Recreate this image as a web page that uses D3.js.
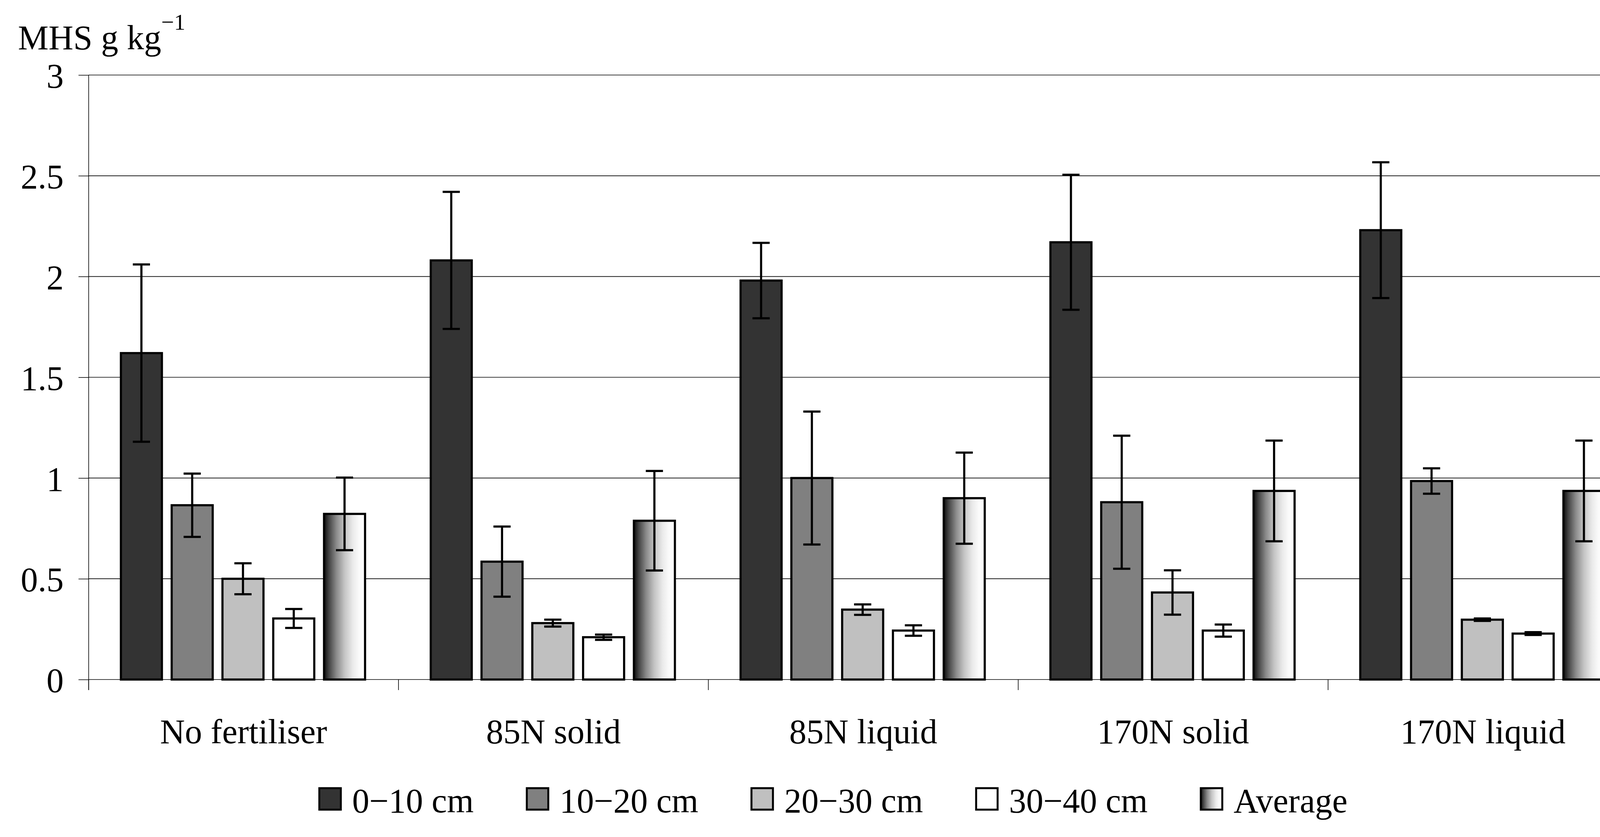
<!DOCTYPE html>
<html>
<head>
<meta charset="utf-8">
<script src="https://cdn.jsdelivr.net/npm/d3@7"></script>
<style>
  html, body { margin: 0; padding: 0; background: #fff; }
  svg { display: block; }
  text { font-family: "Liberation Serif", "Times New Roman", serif; fill: #000; }
</style>
</head>
<body>
<svg id="chart" width="4259" height="2142"></svg>
<script>
// ---- Data ----
const categories = ["No fertiliser", "85N solid", "85N liquid", "170N solid", "170N liquid"];
const seriesNames = ["0\u221210 cm", "10\u221220 cm", "20\u221230 cm", "30\u221240 cm", "Average"];
const depth0_10   = [1.62, 2.08, 1.98, 2.17, 2.23];
const depth10_20  = [0.865, 0.585, 1.00, 0.88, 0.985];
const depth20_30  = [0.50, 0.28, 0.347, 0.432, 0.297];
const depth30_40  = [0.303, 0.21, 0.243, 0.243, 0.228];
const average     = [0.822, 0.788, 0.90, 0.936, 0.936];
const err0_10     = [0.44, 0.34, 0.187, 0.335, 0.337];
const err10_20    = [0.157, 0.174, 0.33, 0.33, 0.063];
const err20_30    = [0.077, 0.017, 0.026, 0.11, 0.006];
const err30_40    = [0.047, 0.013, 0.026, 0.03, 0.007];
const errAverage  = [0.18, 0.247, 0.226, 0.25, 0.25];
const yTicks = [0, 0.5, 1, 1.5, 2, 2.5, 3];
const yTickLabels = ["0", "0.5", "1", "1.5", "2", "2.5", "3"];

const seriesValues = [depth0_10, depth10_20, depth20_30, depth30_40, average];
const seriesErrors = [err0_10, err10_20, err20_30, err30_40, errAverage];
const fills = ["#333333", "#808080", "#c0c0c0", "#ffffff", "url(#avgGrad)"];

// ---- Layout ----
const W = 4259, H = 2142;
const plot = { left: 227, right: 4193, top: 192, bottom: 1739 };
const FS = 88;
const SW = 5.5;

const svg = d3.select("#chart");

// gradient for Average
const defs = svg.append("defs");
const grad = defs.append("linearGradient").attr("id", "avgGrad")
  .attr("x1", "0%").attr("x2", "100%").attr("y1", "0%").attr("y2", "0%");
[[0, "#0d0d0d"], [0.12, "#444"], [0.3, "#8a8a8a"], [0.5, "#c4c4c4"], [0.7, "#eaeaea"], [0.85, "#fafafa"], [1, "#ffffff"]]
  .forEach(([o, c]) => grad.append("stop").attr("offset", o).attr("stop-color", c));

const x0 = d3.scaleBand().domain(categories).range([plot.left, plot.right]).padding(0);
const bw = x0.bandwidth();
const x1 = d3.scaleBand().domain(seriesNames)
  .range([bw * 0.104, bw * 0.892]).paddingInner(0.1923).paddingOuter(0);
const y = d3.scaleLinear().domain([0, 3]).range([plot.bottom, plot.top]);

// gridlines
svg.append("g").selectAll("line").data(yTicks.filter(d => d > 0)).join("line")
  .attr("x1", plot.left).attr("x2", plot.right)
  .attr("y1", d => y(d)).attr("y2", d => y(d))
  .attr("stroke", "#000").attr("stroke-width", 1.6);

// right border
svg.append("line").attr("x1", plot.right).attr("x2", plot.right)
  .attr("y1", plot.top).attr("y2", plot.bottom + 27)
  .attr("stroke", "#000").attr("stroke-width", 1.6);

// y axis
const yAxis = d3.axisLeft(y).tickValues(yTicks)
  .tickFormat((d, i) => yTickLabels[i]).tickSize(26).tickSizeOuter(0).tickPadding(38);
const gy = svg.append("g").attr("transform", `translate(${plot.left},0)`).call(yAxis);
gy.select(".domain").attr("stroke", "#000").attr("stroke-width", 1.6)
  .attr("d", `M0,${plot.top}V${plot.bottom + 27}`);
gy.selectAll(".tick line").attr("stroke", "#000").attr("stroke-width", 1.6);
gy.selectAll(".tick text").attr("font-size", FS).attr("dy", "0.36em")
  .style("font-family", '"Liberation Serif", "Times New Roman", serif');

// x axis
const xAxis = d3.axisBottom(x0).tickSize(0).tickSizeOuter(0).tickPadding(0);
const gx = svg.append("g").attr("transform", `translate(0,${plot.bottom})`).call(xAxis);
gx.select(".domain").attr("stroke", "#000").attr("stroke-width", 1.6)
  .attr("d", `M${plot.left},0H${plot.right}`);
gx.selectAll(".tick text").attr("font-size", FS).attr("y", 163).attr("dy", 0)
  .style("font-family", '"Liberation Serif", "Times New Roman", serif');
// category boundary ticks
const bounds = categories.map(c => x0(c)).concat([plot.right]);
gx.append("g").selectAll("line").data(bounds).join("line")
  .attr("x1", d => d).attr("x2", d => d).attr("y1", 0).attr("y2", 27)
  .attr("stroke", "#000").attr("stroke-width", 1.6);

// bars
const groups = svg.append("g").selectAll("g").data(categories).join("g")
  .attr("transform", c => `translate(${x0(c)},0)`);

groups.each(function (c, ci) {
  const g = d3.select(this);
  seriesNames.forEach((s, si) => {
    const v = seriesValues[si][ci];
    g.append("rect")
      .attr("x", x1(s)).attr("width", x1.bandwidth())
      .attr("y", y(v)).attr("height", y(0) - y(v))
      .attr("fill", fills[si]).attr("stroke", "#000").attr("stroke-width", SW);
  });
  seriesNames.forEach((s, si) => {
    const v = seriesValues[si][ci], e = seriesErrors[si][ci];
    const cx = x1(s) + x1.bandwidth() / 2;
    const eg = g.append("g").attr("stroke", "#000").attr("stroke-width", SW);
    eg.append("line").attr("x1", cx).attr("x2", cx).attr("y1", y(v + e)).attr("y2", y(v - e));
    eg.append("line").attr("x1", cx - 22).attr("x2", cx + 22).attr("y1", y(v + e)).attr("y2", y(v + e));
    eg.append("line").attr("x1", cx - 22).attr("x2", cx + 22).attr("y1", y(v - e)).attr("y2", y(v - e));
  });
});

// title
const title = svg.append("text").attr("x", 46).attr("y", 126).attr("font-size", FS);
title.append("tspan").text("MHS g kg");
title.append("tspan").attr("font-size", 58).attr("dy", -50).text("\u22121");

// legend
const leg = svg.append("g");
const box = 55, gapText = 29, spacing = 136;
let xpos = 0;
seriesNames.forEach((s, si) => {
  const it = leg.append("g").attr("transform", `translate(${xpos},0)`);
  it.append("rect").attr("x", 0).attr("y", 2017).attr("width", box).attr("height", box)
    .attr("fill", fills[si]).attr("stroke", "#000").attr("stroke-width", 5);
  const t = it.append("text").attr("x", box + gapText).attr("y", 2079).attr("font-size", FS).text(s);
  const tw = t.node().getComputedTextLength();
  xpos += box + gapText + tw + spacing;
});
const totalW = xpos - spacing;
leg.attr("transform", `translate(${W / 2 - totalW / 2 + 4},0)`);
</script>
</body>
</html>
